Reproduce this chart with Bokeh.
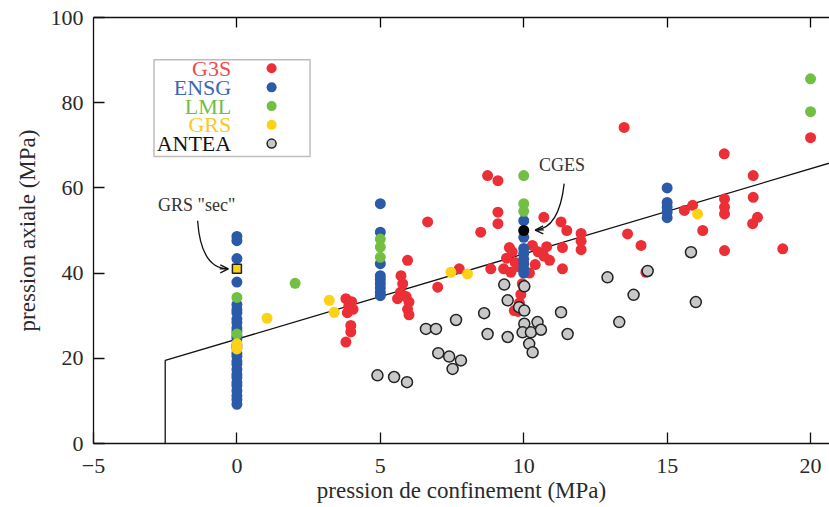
from bokeh.plotting import figure
from bokeh.models import (Range1d, LinearAxis, FixedTicker, Label, BoxAnnotation, Arrow, OpenHead)
from bokeh.embed import file_html
from bokeh.resources import INLINE

FONT = "Liberation Serif"

# ---------------- data (pression de confinement, pression axiale) ----------------
g3s_x = [3.8, 4.0, 3.9, 4.05, 3.85, 3.97, 3.97, 3.8,
         5.72, 5.78, 5.7, 5.95, 5.9, 6.0, 5.95, 6.0,
         5.6, 6.65, 7.0, 7.75, 8.5, 8.74, 9.1, 9.1,
         9.1, 8.85, 9.3, 9.5, 9.6, 9.4, 9.7, 9.55,
         9.8, 10.3, 10.5, 10.7, 10.8, 10.4, 10.9, 10.2,
         9.95, 9.9, 9.85, 9.8, 9.67, 10.7, 11.3, 11.5,
         11.35, 11.35, 12.0, 12.0, 12.0, 13.5, 13.62, 14.09,
         14.26, 15.6, 15.89, 16.24, 16.99, 17.0, 17.0, 17.0,
         17.0, 18.0, 18.0, 18.15, 17.98, 19.03, 20.0]
g3s_y = [34.0, 33.3, 32.3, 31.5, 30.7, 27.7, 26.2, 23.8,
         39.4, 37.5, 35.5, 43.0, 34.5, 33.2, 31.5, 30.2,
         34.0, 52.0, 36.7, 41.0, 49.6, 62.9, 61.7, 54.3,
         51.6, 41.0, 41.0, 46.0, 45.0, 43.5, 42.5, 40.2,
         41.5, 46.5, 45.0, 44.0, 46.2, 42.0, 43.0, 40.0,
         37.5, 35.0, 33.0, 31.0, 31.2, 53.1, 52.0, 50.0,
         46.0, 41.0, 49.3, 47.5, 45.5, 74.2, 49.2, 46.5,
         40.2, 54.7, 55.9, 50.0, 68.0, 57.4, 55.5, 53.9,
         45.3, 62.9, 57.8, 53.1, 51.6, 45.7, 71.8]

ensg_levels = [0, 5, 10, 15]
ensg_values = {
    0: [48.6, 47.6, 43.4, 37.9, 32.6, 31.4, 30.7, 29.2, 28.4, 27.1, 26.3, 25.2, 24.6, 23.1,
        22.4, 21.2, 20.5, 19.3, 18.6, 17.4, 16.2, 15.5, 14.3, 13.6, 12.4, 11.2, 10.3, 9.2],
    5: [56.3, 49.6, 42.2, 39.4, 38.5, 37.5, 36.5, 35.5, 34.7],
    10: [52.3, 48.4, 45.8, 44.6, 43.3, 42.2, 41.0, 40.0],
    15: [60.0, 56.6, 55.5, 54.3, 53.0],
}

lml_x = [0, 0, 2.03, 5, 5, 5, 10, 10, 10, 20, 20]
lml_y = [34.3, 25.7, 37.6, 48.0, 46.1, 43.7, 62.9, 56.3, 54.5, 85.6, 77.9]

grs_x = [0, 0, 1.05, 3.22, 3.39, 7.46, 8.04, 16.06]
grs_y = [23.4, 22.2, 29.4, 33.6, 30.8, 40.2, 39.8, 53.9]

grs_sec_x = [0]
grs_sec_y = [41.0]

cges_x = [10]
cges_y = [50.0]

antea_x = [4.9, 5.48, 5.93, 6.59, 6.94, 7.64, 7.02, 7.4, 7.81, 7.52, 8.62,
           8.74, 9.44, 9.44, 9.32, 10.02, 9.84, 10.02, 10.02, 10.48, 9.96, 10.25,
           10.6, 10.19, 10.31, 11.3, 11.53, 12.92, 13.33, 13.83, 14.32, 15.83, 16.0]
antea_y = [16.0, 15.6, 14.4, 26.9, 26.9, 29.0, 21.2, 20.4, 19.5, 17.5, 30.6,
           25.7, 33.6, 25.0, 37.3, 36.9, 32.0, 31.2, 28.1, 28.5, 26.1, 26.1,
           26.7, 23.4, 21.4, 30.8, 25.7, 39.0, 28.5, 34.9, 40.5, 44.9, 33.2]

# critere (coupure en traction + droite)
crit_x = [-2.5, -2.5, 21.0]
crit_y = [0.0, 19.5, 66.5]

x_ticks = [-5, 0, 5, 10, 15, 20]
y_ticks = [0, 20, 40, 60, 80, 100]

series_names = ["G3S", "ENSG", "LML", "GRS", "ANTEA"]
marker_colors = ["#ec2f36", "#2b5ba8", "#72bf44", "#fdd116", "#c8c8c8"]
marker_lines = [None, None, None, None, "#222222"]
label_colors = ["#ef4a50", "#3d66b3", "#6fbf48", "#f8c929", "#111111"]

# ---------------- figure ----------------
p = figure(width=829, height=507, output_backend="svg", toolbar_location=None,
           x_range=Range1d(-5, 20.66), y_range=Range1d(0, 100),
           min_border_left=93, min_border_right=0, min_border_top=17, min_border_bottom=64)
p.xgrid.visible = False
p.ygrid.visible = False
p.outline_line_color = None
p.background_fill_color = "white"

tick_color = "#2a2a2a"
for ax in [p.xaxis[0], p.yaxis[0]]:
    ax.major_tick_in = 11
    ax.major_tick_out = 0
    ax.minor_tick_line_color = None
    ax.axis_line_color = "#111111"
    ax.major_tick_line_color = "#111111"
    ax.axis_line_width = 1.3
    ax.major_tick_line_width = 1.3
    ax.major_label_text_font = FONT
    ax.major_label_text_font_size = "22px"
    ax.major_label_text_color = tick_color
    ax.axis_label_text_font = FONT
    ax.axis_label_text_font_size = "23px"
    ax.axis_label_text_font_style = "normal"
    ax.axis_label_text_color = tick_color

p.xaxis[0].ticker = FixedTicker(ticks=x_ticks)
p.xaxis[0].major_label_overrides = {-5: "\u22125"}
p.yaxis[0].ticker = FixedTicker(ticks=y_ticks)
p.xaxis[0].axis_label = "pression de confinement (MPa)"
p.yaxis[0].axis_label = "pression axiale (MPa)"
p.xaxis[0].major_label_standoff = 15
p.xaxis[0].axis_label_standoff = 2
p.yaxis[0].major_label_standoff = 10
p.yaxis[0].axis_label_standoff = 8

top_ticks = x_ticks[1:]
top = LinearAxis(ticker=FixedTicker(ticks=top_ticks),
                 major_label_overrides={t: "" for t in top_ticks},
                 major_label_text_font_size="1px",
                 major_label_standoff=0, major_tick_in=10, major_tick_out=0,
                 minor_tick_line_color=None, axis_line_color="#111111", axis_line_width=1.3,
                 major_tick_line_width=1.3)
p.add_layout(top, "above")

# ---------------- critere ----------------
p.line(crit_x, crit_y, line_color="#111111", line_width=1.3)

# ---------------- points ----------------
SIZE = 11
p.scatter(g3s_x, g3s_y, size=SIZE, fill_color=marker_colors[0], line_color=None)
ensg_x = [lvl for lvl in ensg_levels for _ in ensg_values[lvl]]
ensg_y = [v for lvl in ensg_levels for v in ensg_values[lvl]]
p.scatter(ensg_x, ensg_y, size=SIZE, fill_color=marker_colors[1], line_color=None)
p.scatter(lml_x, lml_y, size=SIZE, fill_color=marker_colors[2], line_color=None)
p.scatter(grs_x, grs_y, size=SIZE, fill_color=marker_colors[3], line_color=None)
p.scatter(antea_x, antea_y, size=SIZE, fill_color=marker_colors[4],
          line_color="#222222", line_width=1.5)
p.scatter(grs_sec_x, grs_sec_y, marker="square", size=9, fill_color=marker_colors[3],
          line_color="#222222", line_width=1.5)
p.scatter(cges_x, cges_y, size=SIZE, fill_color="#000000", line_color=None)

# ---------------- annotations ----------------
ANN_FONT_SIZE = "18px"
sx, sy = grs_sec_x[0], grs_sec_y[0]
p.add_layout(Label(x=sx - 2.75, y=sy + 15.0, text='GRS "sec"', text_font=FONT,
                   text_font_size=ANN_FONT_SIZE, text_color="#333333",
                   text_align="left", text_baseline="middle"))
p.bezier(x0=[sx - 1.37], y0=[sy + 11.3], x1=[sx - 0.3], y1=[sy],
         cx0=[sx - 1.3], cy0=[sy + 4.5], cx1=[sx - 1.0], cy1=[sy],
         line_color="#111111", line_width=1.3)
p.add_layout(Arrow(end=OpenHead(size=8, line_width=1.3, line_color="#111111"),
                   x_start=sx - 0.6, y_start=sy, x_end=sx - 0.3, y_end=sy,
                   line_width=1.3, line_color="#111111"))

cx, cy = cges_x[0], cges_y[0]
p.add_layout(Label(x=cx + 0.53, y=cy + 15.3, text="CGES", text_font=FONT,
                   text_font_size=ANN_FONT_SIZE, text_color="#333333",
                   text_align="left", text_baseline="middle"))
p.bezier(x0=[cx + 1.41], y0=[cy + 11.0], x1=[cx + 0.4], y1=[cy + 0.1],
         cx0=[cx + 1.3], cy0=[cy + 4.5], cx1=[cx + 1.0], cy1=[cy + 0.3],
         line_color="#111111", line_width=1.3)
p.add_layout(Arrow(end=OpenHead(size=8, line_width=1.3, line_color="#111111"),
                   x_start=cx + 0.7, y_start=cy + 0.15, x_end=cx + 0.4, y_end=cy + 0.1,
                   line_width=1.3, line_color="#111111"))

# ---------------- legend box (names on the left, markers on the right) ----------------
LEG_LEFT, LEG_RIGHT, LEG_BOTTOM, LEG_TOP = -2.89, 2.55, 67.4, 90.1
LEG_TEXT_X, LEG_MARK_X = -0.2, 1.21
legend_rows_y = [88.1, 83.6, 79.2, 74.8, 70.4]
p.add_layout(BoxAnnotation(left=LEG_LEFT, right=LEG_RIGHT, bottom=LEG_BOTTOM, top=LEG_TOP,
                           fill_color="white", fill_alpha=1.0,
                           line_color="#222222", line_width=1.5, level="underlay"))
for name, col, yy in zip(series_names, label_colors, legend_rows_y):
    p.add_layout(Label(x=LEG_TEXT_X, y=yy, text=name, text_font=FONT, text_font_size="22px",
                       text_color=col, text_align="right", text_baseline="middle"))
p.scatter([LEG_MARK_X] * len(series_names), legend_rows_y, size=[10, 10, 10, 10, 9],
          fill_color=marker_colors, line_color=marker_lines, line_width=1.5)

open("out.html", "w").write(file_html(p, INLINE))
